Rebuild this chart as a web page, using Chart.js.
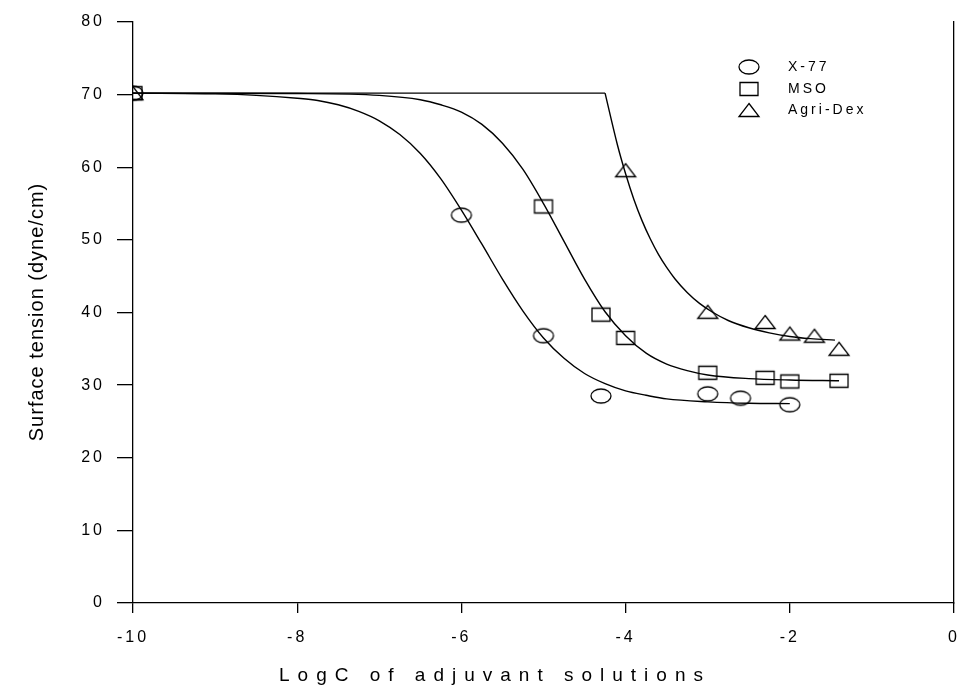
<!DOCTYPE html>
<html>
<head>
<meta charset="utf-8">
<script src="https://cdn.jsdelivr.net/npm/chart.js@4.4.0/dist/chart.umd.min.js"></script>
<style>
  html, body { margin: 0; padding: 0; background: #fff; }
  #wrap { width: 963px; height: 690px; }
</style>
</head>
<body>
<div id="wrap"><canvas id="tensionChart" width="963" height="690"></canvas></div>
<script>
const x77LogC = [-10, -6, -5, -4.3, -3, -2.6, -2];
const x77Tension = [70.2, 53.4, 36.8, 28.5, 28.8, 28.2, 27.3];
const msoLogC = [-10, -5, -4.3, -4, -3, -2.3, -2, -1.4];
const msoTension = [70.2, 54.6, 39.7, 36.5, 31.7, 31.0, 30.5, 30.6];
const agriLogC = [-10, -4, -3, -2.3, -2, -1.7, -1.4];
const agriTension = [70.2, 59.6, 40.1, 38.7, 37.1, 36.8, 35.0];

// --- fitted curves ---
const x77FitLogC = [-10, -9, -8.5, -8, -7.75, -7.5, -7.25, -7, -6.75, -6.5, -6.25, -6, -5.75, -5.5,
    -5.25, -5, -4.75, -4.5, -4.25, -4, -3.75, -3.5, -3, -2.5, -2];
const x77FitTension = [70.2, 70.1, 69.9, 69.5, 69.2, 68.6, 67.7, 66.4, 64.5, 61.9, 58.4, 54.1, 49.4, 44.6,
    40.2, 36.5, 33.7, 31.6, 30.2, 29.2, 28.6, 28.1, 27.7, 27.5, 27.45];
const msoFitLogC = [-10, -8, -7, -6.5, -6.25, -6, -5.75, -5.5, -5.25, -5, -4.75, -4.5, -4.25, -4,
    -3.75, -3.5, -3.25, -3, -2.5, -2, -1.4];
const msoFitTension = [70.2, 70.15, 69.9, 69.3, 68.6, 67.6, 65.9, 63.3, 59.7, 55.0, 49.8, 44.6, 40.1, 36.8,
    34.4, 32.9, 32.0, 31.4, 30.9, 30.7, 30.6];
const agriFlatLogC = [-10, -4.25];
const agriFlatTension = [70.2, 70.2];
const agriFitLogC = [-4.25, -4.1, -4.0, -3.9, -3.8, -3.7, -3.6, -3.5, -3.4, -3.25, -3.1, -2.95,
    -2.75, -2.5, -2.25, -2.0, -1.75, -1.45];
const agriFitTension = [70.2, 63.1, 59.1, 55.6, 52.65, 50.15, 48.0, 46.2, 44.65, 42.75, 41.25, 40.1,
    38.9, 37.9, 37.2, 36.7, 36.4, 36.2];

// --- axes ---
const xTicksStep = 2;
const yTicksStep = 10;
const xRange = [-10, 0];
const yRange = [0, 80];
const seriesNames = ['X-77', 'MSO', 'Agri-Dex'];
const xTitle = 'LogC of adjuvant solutions';
const yTitle = 'Surface tension (dyne/cm)';

const FONT = '"Liberation Sans", Arial, Helvetica, sans-serif';

// open marker shapes, slightly wider than tall like the original
function makeMarker(shape) {
    const c = document.createElement('canvas');
    c.width = 24; c.height = 18;
    const g = c.getContext('2d');
    g.strokeStyle = '#000';
    g.lineWidth = 1.3;
    g.beginPath();
    if (shape === 'ellipse') {
        g.ellipse(12, 9, 10, 7, 0, 0, Math.PI * 2);
    } else if (shape === 'rect') {
        g.rect(3, 2.5, 18, 13);
    } else {
        g.moveTo(12, 2.5); g.lineTo(22, 15.5); g.lineTo(2, 15.5); g.closePath();
    }
    g.stroke();
    return c;
}
const markers = [makeMarker('ellipse'), makeMarker('rect'), makeMarker('triangle')];

const toXY = (xs, ys) => xs.map((x, i) => ({ x: x, y: ys[i] }));

function pointSet(label, xs, ys, marker) {
    return {
        label: label,
        data: toXY(xs, ys),
        showLine: false,
        pointStyle: marker,
        pointRadius: 8,
        pointHoverRadius: 8,
        order: 0
    };
}
function curveSet(xs, ys, smooth) {
    return {
        label: '',
        data: toXY(xs, ys),
        showLine: true,
        borderColor: '#000',
        borderWidth: 1.4,
        pointRadius: 0,
        fill: false,
        cubicInterpolationMode: smooth ? 'monotone' : 'default',
        tension: 0,
        order: 1
    };
}

// legend inside the plot + axis titles (with the wide letter spacing of the original)
const frameText = {
    id: 'frameText',
    beforeDraw(chart) {
        chart.ctx.letterSpacing = '3px';
    },
    afterDraw(chart) {
        const ctx = chart.ctx;
        ctx.save();
        ctx.fillStyle = '#000';
        ctx.textBaseline = 'middle';

        // legend
        ctx.letterSpacing = '3px';
        ctx.font = '14px ' + FONT;
        ctx.textAlign = 'left';
        const rows = [67, 89, 110];
        seriesNames.forEach((name, i) => {
            const m = markers[i];
            ctx.drawImage(m, 749 - m.width / 2, rows[i] - m.height / 2);
            ctx.fillText(name, 788, rows[i]);
        });

        // x title
        ctx.letterSpacing = '8px';
        ctx.font = '19px ' + FONT;
        ctx.textAlign = 'center';
        ctx.fillText(xTitle, 495, 676);

        // y title
        ctx.letterSpacing = '1px';
        ctx.font = '20px ' + FONT;
        ctx.translate(37, 312);
        ctx.rotate(-Math.PI / 2);
        ctx.fillText(yTitle, 0, 0);
        ctx.restore();
    }
};

const tickFont = { family: FONT, size: 16 };

new Chart(document.getElementById('tensionChart'), {
    type: 'scatter',
    data: {
        datasets: [
            pointSet(seriesNames[0], x77LogC, x77Tension, markers[0]),
            pointSet(seriesNames[1], msoLogC, msoTension, markers[1]),
            pointSet(seriesNames[2], agriLogC, agriTension, markers[2]),
            curveSet(x77FitLogC, x77FitTension, true),
            curveSet(msoFitLogC, msoFitTension, true),
            curveSet(agriFlatLogC, agriFlatTension, false),
            curveSet(agriFitLogC, agriFitTension, true)
        ]
    },
    options: {
        responsive: false,
        animation: false,
        layout: { padding: { top: 22, right: 0, left: 0, bottom: 0 } },
        plugins: {
            legend: { display: false },
            tooltip: { enabled: false }
        },
        scales: {
            x: {
                type: 'linear',
                min: xRange[0],
                max: xRange[1],
                ticks: { stepSize: xTicksStep, color: '#000', font: tickFont, padding: 15, maxRotation: 0 },
                grid: { drawOnChartArea: false, tickLength: 10, color: '#000', lineWidth: 1.3 },
                border: { color: '#000', width: 1.3 },
                afterFit: s => { s.height = 87; s.paddingLeft = 0; s.paddingRight = 0; }
            },
            y: {
                type: 'linear',
                min: yRange[0],
                max: yRange[1],
                ticks: { stepSize: yTicksStep, color: '#000', font: tickFont, padding: 12 },
                grid: { drawOnChartArea: false, tickLength: 16, color: '#000', lineWidth: 1.3 },
                border: { color: '#000', width: 1.3 },
                afterFit: s => { s.width = 133; }
            },
            y1: {
                type: 'linear',
                position: 'right',
                min: yRange[0],
                max: yRange[1],
                ticks: { display: false },
                grid: { display: false },
                border: { color: '#000', width: 1.3 },
                afterFit: s => { s.width = 8; }
            }
        }
    },
    plugins: [frameText]
});
</script>
</body>
</html>
